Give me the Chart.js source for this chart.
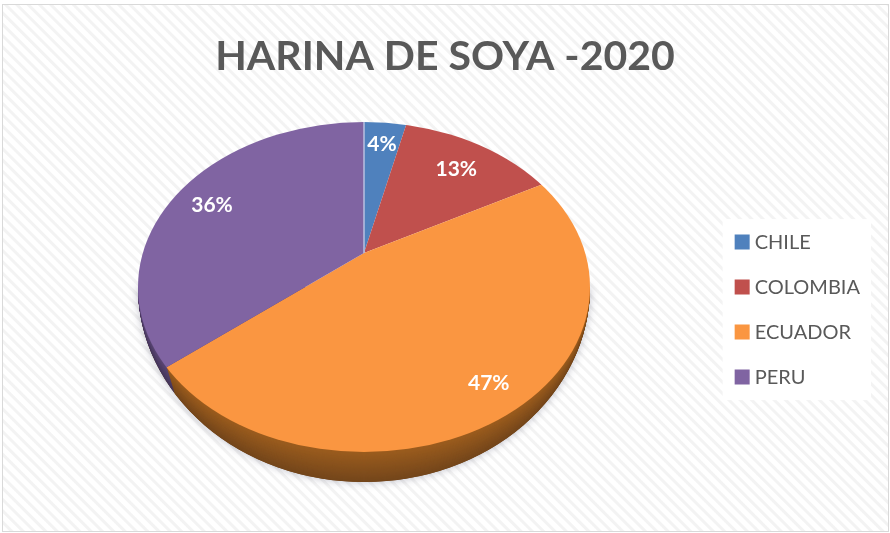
<!DOCTYPE html>
<html>
<head>
<meta charset="utf-8">
<title>HARINA DE SOYA -2020</title>
<script src="https://cdn.jsdelivr.net/npm/chart.js@4"></script>
<style>
  html, body { margin: 0; padding: 0; background: #fff; }
  #card {
    position: absolute; left: 2px; top: 4px; width: 885px; height: 526px;
    border: 1px solid #d9d9d9; box-sizing: content-box;
    background: repeating-linear-gradient(45deg, #fff 0, #fff 4px, #f3f3f3 5px, #f3f3f3 7px, #fff 8px);
  }
  canvas { position: absolute; left: 0; top: 0; }
</style>
</head>
<body>
<div id="card"></div>
<canvas id="chartSoya" width="890" height="533"></canvas>
<script>
const categorias = ['CHILE', 'COLOMBIA', 'ECUADOR', 'PERU'];
const valores = [3.6, 13.4, 47, 36];
const colores = ['#4f81bd', '#c0504d', '#fa9641', '#8064a2'];
const ladosClaro = ['#3a5f8c', '#8e3b39', '#9c5d1e', '#5b4776'];
const ladosOscuro = ['#2c4868', '#6c2d2b', '#74461b', '#453659'];
const etiquetaRadio = [0.53, 0.51, 0.74, 0.56];

// vista 3D: la cara es una elipse y el vertice de las porciones queda por encima de su centro
const vista = { x: 364, y: 253, cx: 364, cy: 287, rx: 226, ry: 165, alto: 30, achatado: 0.7, alcance: 300 };

function mezcla(a, b, t) {
  const pa = parseInt(a.slice(1), 16), pb = parseInt(b.slice(1), 16);
  const c = [16, 8, 0].map(s => Math.round(((pa >> s) & 255) * (1 - t) + ((pb >> s) & 255) * t));
  return `rgb(${c[0]},${c[1]},${c[2]})`;
}

function aplicarVista(ctx, arc, dy) {
  const k = vista.alcance / arc.outerRadius;
  ctx.translate(vista.x, vista.y + dy);
  ctx.scale(k, k * vista.achatado);
  ctx.translate(-arc.x, -arc.y);
}

function trazarCara(ctx) {
  ctx.beginPath();
  ctx.ellipse(vista.cx, vista.cy, vista.rx, vista.ry, 0, 0, Math.PI * 2);
}

// el canto crece hacia abajo: misma anchura, solo la mitad inferior gana altura
function trazarCanto(ctx, dy) {
  ctx.beginPath();
  ctx.ellipse(vista.cx, vista.cy, vista.rx, vista.ry + dy, 0, 0, Math.PI);
  ctx.closePath();
}

const pastel3d = {
  id: 'pastel3d',
  beforeDraw(chart) {
    const { ctx, legend } = chart;
    const cajas = legend.legendHitBoxes;
    const arriba = cajas[0].top;
    const abajo = cajas[cajas.length - 1].top + cajas[cajas.length - 1].height;
    const derecha = Math.max(...cajas.map(c => c.left + c.width));
    ctx.save();
    ctx.fillStyle = '#fff';
    ctx.fillRect(cajas[0].left - 17, arriba - 13, derecha - cajas[0].left + 28, abajo - arriba + 26);
    ctx.restore();
  },
  beforeDatasetDraw(chart, args) {
    const { ctx } = chart;
    const arcs = args.meta.data;

    // sombra suave bajo el pastel
    ctx.save();
    ctx.shadowColor = 'rgba(60,60,90,0.35)';
    ctx.shadowBlur = 8;
    ctx.fillStyle = '#6d431a';
    trazarCanto(ctx, vista.alto);
    ctx.fill();
    ctx.restore();

    // canto del pastel, de abajo hacia arriba
    for (let d = vista.alto; d > 0; d--) {
      ctx.save();
      trazarCanto(ctx, d);
      ctx.clip();
      aplicarVista(ctx, arcs[0], d);
      arcs.forEach((arc, i) => {
        const original = arc.options;
        const opts = Object.create(original);
        opts.backgroundColor = mezcla(ladosClaro[i], ladosOscuro[i], d / vista.alto);
        arc.options = opts;
        arc.draw(ctx);
        arc.options = original;
      });
      ctx.restore();
    }

    ctx.save();
    trazarCara(ctx);
    ctx.clip();
    aplicarVista(ctx, arcs[0], 0);
  },
  afterDatasetDraw(chart, args) {
    const { ctx } = chart;
    const arcs = args.meta.data;
    const primero = arcs[0];

    // linea clara entre PERU y CHILE
    ctx.strokeStyle = '#b9c0e0';
    ctx.lineWidth = 1.5 * primero.outerRadius / vista.alcance;
    ctx.beginPath();
    ctx.moveTo(primero.x, primero.y);
    ctx.lineTo(primero.x, primero.y - primero.outerRadius);
    ctx.stroke();
    ctx.restore();

    const total = valores.reduce((a, b) => a + b, 0);
    ctx.save();
    ctx.font = 'bold 21px Lato';
    ctx.fillStyle = '#fff';
    ctx.textAlign = 'center';
    ctx.textBaseline = 'middle';
    arcs.forEach((arc, i) => {
      const ang = (arc.startAngle + arc.endAngle) / 2;
      const r = etiquetaRadio[i] * vista.alcance;
      const x = vista.x + Math.cos(ang) * r;
      const y = vista.y + Math.sin(ang) * r * vista.achatado + 2;
      ctx.fillText(Math.round(valores[i] / total * 100) + '%', x, y);
    });
    ctx.restore();
  }
};

new Chart(document.getElementById('chartSoya'), {
  type: 'pie',
  data: {
    labels: categorias,
    datasets: [{ data: valores, backgroundColor: colores, borderWidth: 0, clip: false }]
  },
  options: {
    responsive: false,
    animation: false,
    layout: { padding: { left: 20, right: 20, bottom: 3 } },
    plugins: {
      title: {
        display: true,
        text: 'HARINA DE SOYA -2020',
        color: '#595959',
        font: { family: 'Lato', size: 41, weight: 'bold' },
        padding: { top: 32, bottom: 8 }
      },
      legend: {
        position: 'right',
        fullSize: false,
        labels: {
          usePointStyle: true,
          pointStyle: 'rect',
          boxWidth: 5,
          boxHeight: 15,
          padding: 25,
          color: '#595959',
          font: { family: 'Lato', size: 20 }
        }
      },
      tooltip: { enabled: false }
    }
  },
  plugins: [pastel3d]
});
</script>
</body>
</html>
